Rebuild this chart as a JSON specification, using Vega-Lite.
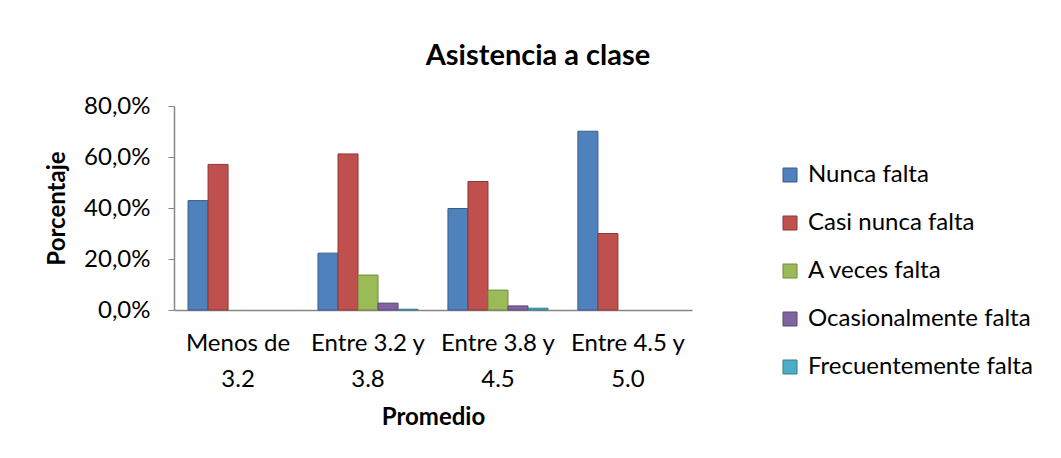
{
  "$schema": "https://vega.github.io/schema/vega-lite/v6.json",
  "width": 518,
  "height": 204,
  "autosize": {"type": "none"},
  "padding": {"left": 174, "top": 106, "right": 369, "bottom": 148},
  "background": "white",
  "config": {
    "font": "Lato",
    "view": {"stroke": null},
    "locale": {"number": {"decimal": ",", "thousands": ".", "grouping": [3], "currency": ["", " €"]}}
  },
  "title": {
    "text": "Asistencia a clase",
    "fontSize": 29,
    "fontWeight": "bold",
    "color": "black",
    "anchor": "middle",
    "dx": 105,
    "offset": 23
  },
  "data": {
    "values": [
      {"promedio": "Menos de 3.2", "serie": "Nunca falta", "valor": 0.429},
      {"promedio": "Menos de 3.2", "serie": "Casi nunca falta", "valor": 0.571},
      {"promedio": "Entre 3.2 y 3.8", "serie": "Nunca falta", "valor": 0.223},
      {"promedio": "Entre 3.2 y 3.8", "serie": "Casi nunca falta", "valor": 0.612},
      {"promedio": "Entre 3.2 y 3.8", "serie": "A veces falta", "valor": 0.137},
      {"promedio": "Entre 3.2 y 3.8", "serie": "Ocasionalmente falta", "valor": 0.027},
      {"promedio": "Entre 3.2 y 3.8", "serie": "Frecuentemente falta", "valor": 0.003},
      {"promedio": "Entre 3.8 y 4.5", "serie": "Nunca falta", "valor": 0.398},
      {"promedio": "Entre 3.8 y 4.5", "serie": "Casi nunca falta", "valor": 0.504},
      {"promedio": "Entre 3.8 y 4.5", "serie": "A veces falta", "valor": 0.078},
      {"promedio": "Entre 3.8 y 4.5", "serie": "Ocasionalmente falta", "valor": 0.016},
      {"promedio": "Entre 3.8 y 4.5", "serie": "Frecuentemente falta", "valor": 0.007},
      {"promedio": "Entre 4.5 y 5.0", "serie": "Nunca falta", "valor": 0.701},
      {"promedio": "Entre 4.5 y 5.0", "serie": "Casi nunca falta", "valor": 0.3}
    ]
  },
  "mark": {"type": "bar", "strokeWidth": 1},
  "encoding": {
    "x": {
      "field": "promedio",
      "type": "nominal",
      "sort": ["Menos de 3.2", "Entre 3.2 y 3.8", "Entre 3.8 y 4.5", "Entre 4.5 y 5.0"],
      "scale": {"paddingInner": 0.23, "paddingOuter": 0.108},
      "axis": {
        "title": "Promedio",
        "titleFontSize": 24,
        "titleFontWeight": "bold",
        "titleColor": "black",
        "titlePadding": 14,
        "labelAngle": 0,
        "labelFontSize": 24,
        "labelColor": "black",
        "labelPadding": 21,
        "labelLineHeight": 36,
        "labelExpr": "[substring(datum.label, 0, lastindexof(datum.label, ' ')), substring(datum.label, lastindexof(datum.label, ' ') + 1)]",
        "ticks": false,
        "domainColor": "#868686",
        "domainWidth": 1.5
      }
    },
    "xOffset": {
      "field": "serie",
      "type": "nominal",
      "sort": ["Nunca falta", "Casi nunca falta", "A veces falta", "Ocasionalmente falta", "Frecuentemente falta"],
      "scale": {"paddingInner": 0, "paddingOuter": 0}
    },
    "y": {
      "field": "valor",
      "type": "quantitative",
      "scale": {"domain": [0, 0.8]},
      "axis": {
        "title": "Porcentaje",
        "titleFontSize": 24,
        "titleFontWeight": "bold",
        "titleColor": "black",
        "titlePadding": 14,
        "format": ".1%",
        "values": [0, 0.2, 0.4, 0.6, 0.8],
        "grid": false,
        "labelFontSize": 24,
        "labelColor": "black",
        "labelPadding": 18,
        "tickSize": 6,
        "tickColor": "#868686",
        "domainColor": "#868686",
        "domainWidth": 1.5
      }
    },
    "fill": {
      "field": "serie",
      "type": "nominal",
      "sort": ["Nunca falta", "Casi nunca falta", "A veces falta", "Ocasionalmente falta", "Frecuentemente falta"],
      "scale": {
        "domain": ["Nunca falta", "Casi nunca falta", "A veces falta", "Ocasionalmente falta", "Frecuentemente falta"],
        "range": ["#4F81BD", "#C0504D", "#9BBB59", "#8064A2", "#4BACC6"]
      },
      "legend": {
        "title": null,
        "orient": "none",
        "legendX": 604,
        "legendY": 57,
        "padding": 0,
        "symbolType": "square",
        "symbolSize": 196,
        "symbolStrokeWidth": 1,
        "labelFontSize": 24,
        "labelColor": "black",
        "labelOffset": 6,
        "rowPadding": 24,
        "labelLimit": 300
      }
    },
    "stroke": {
      "field": "serie",
      "type": "nominal",
      "scale": {
        "domain": ["Nunca falta", "Casi nunca falta", "A veces falta", "Ocasionalmente falta", "Frecuentemente falta"],
        "range": ["#385D8A", "#8C3836", "#71893F", "#5C4776", "#357D91"]
      },
      "legend": null
    }
  }
}
